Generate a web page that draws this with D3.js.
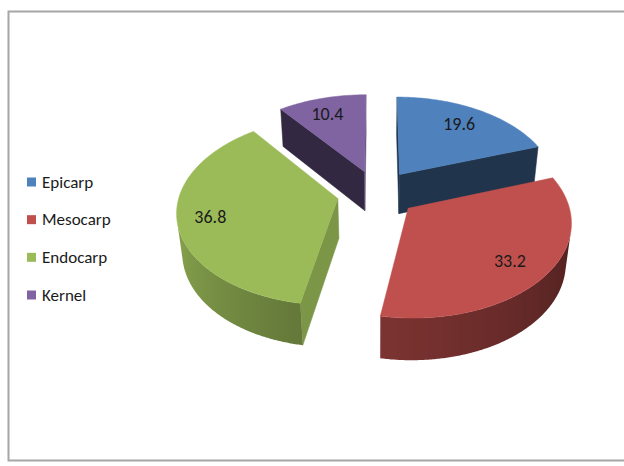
<!DOCTYPE html>
<html>
<head>
<meta charset="utf-8">
<script src="https://cdn.jsdelivr.net/npm/d3@7"></script>
<style>
body { margin: 0; background: #fff; overflow: hidden; }
svg { display: block; }
text { font-family: Carlito, "Liberation Sans Narrow", Lato, sans-serif; }
</style>
</head>
<body>
<script>
// chart data
var categories = ["Epicarp", "Mesocarp", "Endocarp", "Kernel"];
var values = [19.6, 33.2, 36.8, 10.4];
var valueLabels = ["19.6", "33.2", "36.8", "10.4"];
var colors = ["#4F81BD", "#C0504D", "#9BBB59", "#8064A2"];

(function(){

var width = 624, height = 466;

var svg = d3.select("body").append("svg")
    .attr("width", width)
    .attr("height", height);

var defs = svg.append("defs");

// chart frame: left, top and bottom edges only (right side runs off the picture)
svg.append("path")
    .attr("d", "M" + width + ",11.5H8.5V460.5H" + width)
    .attr("fill", "none")
    .attr("stroke", "#a6a6a6")
    .attr("stroke-width", 2);

//3d view settings
var cx = 377, cy = 193,   // pie centre on screen
    R = 158,              // pie radius
    explode = 40,         // slice pull-out
    depthH = 50,          // pie thickness
    s = 0.58, c = Math.sqrt(1 - s * s),
    D = 1018;             // camera distance (perspective)

var cam = [0, D * s, -D * c];

//project a world point (x right, y up, z away) to the screen
function proj(p){
    var depth = p[2] * c - p[1] * s;
    var k = D / (D + depth);
    return [cx + p[0] * k, cy - (p[2] * s + p[1] * c) * k];
}

function facing(n, p){
    return (cam[0] - p[0]) * n[0] + (cam[1] - p[1]) * n[1] + (cam[2] - p[2]) * n[2] > 0;
}

function shade(base, f){
    var col = d3.rgb(base);
    return d3.rgb(col.r * f, col.g * f, col.b * f).toString();
}

// outer wall shading by normal angle (light from the left)
var wallShade = d3.scaleLinear()
    .domain([90, 190, 270])
    .range([0.38, 0.645, 0.93])
    .clamp(true);

var rows = categories.map(function(name, i){
    return {name: name, value: values[i], label: valueLabels[i], color: colors[i]};
});

var pie = d3.pie().sort(null).value(function(d){ return d.value; });
var arcs = pie(rows);

var line = d3.line();

arcs.forEach(function(a){
    var m = (a.startAngle + a.endAngle) / 2;
    a.ox = explode * Math.sin(m);
    a.oz = explode * Math.cos(m);
    a.depth = (a.oz + 0.5 * R * Math.cos(m)) * c;
});

// far slices first
var order = arcs.slice().sort(function(p, q){ return q.depth - p.depth; });

var layer = svg.append("g").attr("class", "pie");

order.forEach(function(a){
    var g = layer.append("g").attr("class", "slice");
    var a0 = a.startAngle, a1 = a.endAngle;
    var ox = a.ox, oz = a.oz;
    var base = a.data.color;
    function rim(t, y){ return [ox + R * Math.sin(t), y, oz + R * Math.cos(t)]; }
    var ctrTop = [ox, 0, oz], ctrBot = [ox, -depthH, oz];

    function poly(pts3, fill){
        g.append("path")
            .attr("d", line(pts3.map(proj)) + "Z")
            .attr("fill", fill)
            .attr("stroke", fill)
            .attr("stroke-width", 0.5)
            .attr("stroke-linejoin", "round");
    }

    //radial cut faces
    var faces = [
        {t: a0, n: [-Math.cos(a0), 0, Math.sin(a0)]},
        {t: a1, n: [Math.cos(a1), 0, -Math.sin(a1)]}
    ];
    faces.forEach(function(f){
        var mid = rim(f.t, -depthH / 2);
        mid = [(mid[0] + ox) / 2, mid[1], (mid[2] + oz) / 2];
        if (!facing(f.n, mid)) return;
        var nAng = (Math.atan2(f.n[0], f.n[2]) * 180 / Math.PI + 360) % 360;
        var f0 = (nAng > 60 && nAng < 130) ? 0.8 : 0.4;
        poly([ctrTop, rim(f.t, 0), rim(f.t, -depthH), ctrBot], shade(base, f0));
    });

    //outer wall: visible angles joined in one path, shaded by a gradient
    var steps = Math.ceil((a1 - a0) / (Math.PI / 360));
    var vis = [];
    for (var i = 0; i <= steps; i++){
        var t = a0 + (a1 - a0) * i / steps;
        var n = [Math.sin(t), 0, Math.cos(t)];
        if (facing(n, rim(t, -depthH / 2))) vis.push(t);
    }
    if (vis.length > 1){
        var topPts = vis.map(function(t){ return rim(t, 0); });
        var botPts = vis.slice().reverse().map(function(t){ return rim(t, -depthH); });
        var xs = vis.map(function(t){ return proj(rim(t, 0))[0]; });
        var xMin = d3.min(xs), xMax = d3.max(xs);
        var gid = "wall" + a.index;
        var grad = defs.append("linearGradient")
            .attr("id", gid)
            .attr("gradientUnits", "userSpaceOnUse")
            .attr("x1", xMin).attr("x2", xMax)
            .attr("y1", 0).attr("y2", 0);
        var stops = vis.map(function(t, k){
            return {o: (xs[k] - xMin) / (xMax - xMin || 1), col: shade(base, wallShade(t * 180 / Math.PI))};
        }).sort(function(p, q){ return p.o - q.o; });
        stops.forEach(function(st){
            grad.append("stop").attr("offset", st.o).attr("stop-color", st.col);
        });
        g.append("path")
            .attr("d", line(topPts.concat(botPts).map(proj)) + "Z")
            .attr("fill", "url(#" + gid + ")");
    }

    //top face
    var top = [ctrTop];
    var topSteps = Math.ceil((a1 - a0) / (Math.PI / 180));
    for (var j = 0; j <= topSteps; j++){
        top.push(rim(a0 + (a1 - a0) * j / topSteps, 0));
    }
    poly(top, base);
});

//data labels on the top faces
arcs.forEach(function(a){
    var m = (a.startAngle + a.endAngle) / 2;
    var rho = 0.78 * R;
    var p = proj([a.ox + rho * Math.sin(m), 0, a.oz + rho * Math.cos(m)]);
    svg.append("text")
        .attr("x", p[0] - 3).attr("y", p[1] + 1)
        .attr("text-anchor", "middle")
        .attr("dominant-baseline", "central")
        .attr("font-size", 18)
        .attr("fill", "#1a1a1a")
        .text(a.data.label);
});

//legend
var legend = svg.append("g").attr("class", "legend");
var legY = d3.scalePoint().domain(categories).range([182, 295]);
rows.forEach(function(d){
    var y = legY(d.name);
    legend.append("rect")
        .attr("x", 27).attr("y", y - 4.5)
        .attr("width", 9).attr("height", 9)
        .attr("fill", d.color);
    legend.append("text")
        .attr("x", 42).attr("y", y)
        .attr("dominant-baseline", "central")
        .attr("font-size", 17)
        .attr("fill", "#1a1a1a")
        .text(d.name);
});

})();
</script>
</body>
</html>
